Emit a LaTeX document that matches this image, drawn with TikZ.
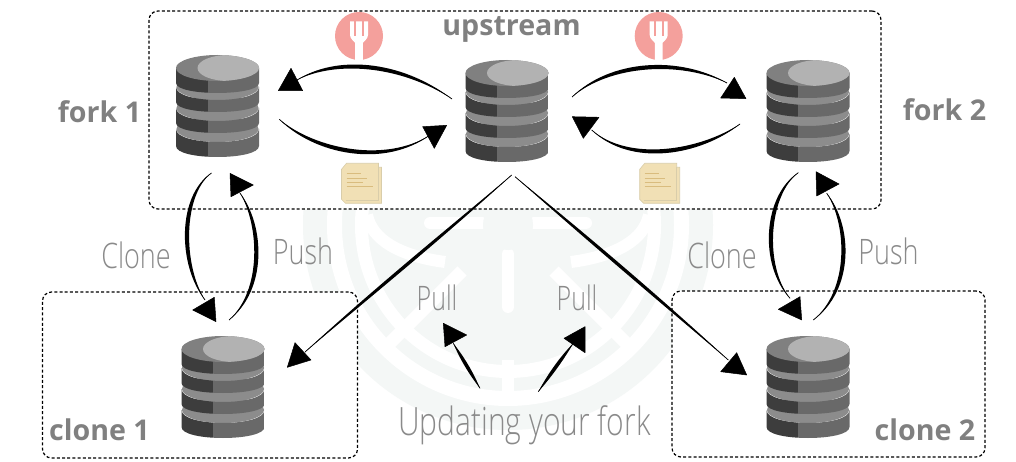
\documentclass[tikz,border=0pt]{standalone}
\usepackage{fontspec}
\setmainfont{Open Sans}
\newfontfamily\labfont{Open Sans}
\newfontfamily\handfont{Open Sans Light}
\usetikzlibrary{calc}
\definecolor{wm}{HTML}{F4F7F6}
\definecolor{labgray}{HTML}{808080}
\definecolor{handgray}{HTML}{8A8A8A}
\definecolor{forkred}{HTML}{F4A09C}
\definecolor{notepaper}{HTML}{F1E0B5}
\definecolor{noteedge}{HTML}{D9CDAA}
\definecolor{noteline}{HTML}{D9BC7E}
\tikzset{
  groupbox/.style={draw=black,fill=white,line width=1.2pt,dash pattern=on 3pt off 2.2pt,rounded corners=9pt,inner sep=0pt},
  dbnode/.style={minimum width=83pt,minimum height=102pt,inner sep=0pt},
  iconnode/.style={minimum width=10pt,minimum height=10pt,inner sep=0pt},
  biglabel/.style={text=labgray,font=\labfont\bfseries\fontsize{28.6}{32}\selectfont,inner sep=0pt},
  handlabel/.style={text=handgray,font=\handfont\fontsize{27}{30}\selectfont,inner sep=0pt,yscale=1.3,transform shape},
  handwide/.style={text=handgray,font=\handfont\fontsize{30}{32}\selectfont,inner sep=0pt,yscale=1.3,transform shape},
  handsmall/.style={text=handgray,font=\handfont\fontsize{25}{30}\selectfont,inner sep=0pt,yscale=1.35,transform shape},
  sketchline/.style={draw=black,line width=0.7pt},
  sketchbody/.style={fill=black},
  sketchhead/.style={fill=black,draw=black,line width=0.5pt,line join=round},
}
% one disc of the database stack: top y, side height at the rim, depth of the lower curve
\newcommand{\dbdisc}[3]{%
  \fill[black!45!white] (0,#1) ellipse[x radius=41pt,y radius=13pt];
  \begin{scope}
    \clip (-41.5,#1) -- (-41.5,#1+#2) .. controls (-41.5,#1+#2+#3*1.333) and (41.5,#1+#2+#3*1.333) .. (41.5,#1+#2) -- (41.5,#1)
      .. controls (41.5,#1+17.3) and (-41.5,#1+17.3) .. (-41.5,#1) -- cycle;
    \fill[black!76!white] (-42,#1-2) rectangle (-10,#1+#2+#3+2);
    \fill[black!59!white] (-10,#1-2) rectangle (42,#1+#2+#3+2);
  \end{scope}
}
\tikzset{
  db/.pic={
    \dbdisc{22}{17}{11}
    \dbdisc{1}{15}{10}
    \dbdisc{-20}{15}{10}
    \begin{scope}
      \clip (-41.5,-39) -- (-41.5,-24) .. controls (-41.5,-10.7) and (41.5,-10.7) .. (41.5,-24) -- (41.5,-39) -- cycle;
      \fill[black!76!white] (-42,-40) rectangle (-10,-8);
      \fill[black!59!white] (-10,-40) rectangle (42,-8);
    \end{scope}
    \fill[black!50!white] (0,-39) ellipse[x radius=41.5pt,y radius=13pt];
    \begin{scope}
      \clip (0,-39) ellipse[x radius=41.5pt,y radius=13pt];
      \fill[black!30!white] (11,-39) ellipse[x radius=31pt,y radius=13pt];
    \end{scope}
  },
  forkicon/.pic={
    \fill[forkred] (0,0) circle[radius=24pt];
    \fill[white] (-9,-14.5) -- (-9,-1) .. controls (-9,3) and (-4.5,5.5) .. (-3.8,7) -- (-3.8,24) -- (3.8,24) -- (3.8,7) .. controls (4.5,5.5) and (9,3) .. (9,-1) -- (9,-14.5) -- cycle;
    \fill[forkred] (-5,-14.5) rectangle (-2.8,0);
    \fill[forkred] (2.8,-14.5) rectangle (5,0);
  },
  noteicon/.pic={
    \filldraw[fill=notepaper,draw=noteedge,line width=0.6pt] (-15,-20) -- (17,-20) -- (17,-16) -- (20,-16) -- (20,20) -- (-16,20) -- (-20,16) -- (-20,-14) -- cycle;
    \draw[noteedge,line width=0.5pt] (-16,17) -- (17,17) -- (17,-16);
    \draw[noteline,line width=1.4pt] (-15,-9.5) -- (-1,-9.5) (-15,-5) -- (5.5,-5) (-15,-1) -- (1.5,-1) (-15,3.3) -- (11.5,3.3);
  },
}
% node, offset, control 1, control 2, node, offset, half width, head path
\newcommand{\skarrow}[8]{%
  \path ([shift={(#2)}]#1.center) coordinate (sa) ([shift={(#6)}]#5.center) coordinate (sb);
  \draw[sketchline] ([shift={(#2)}]#1.center) .. controls (#3) and (#4) .. ([shift={(#6)}]#5.center);
  \fill[sketchbody] (sa) .. controls ($(#3)!#7pt!90:(#4)$) and ($(#4)!#7pt!-90:(#3)$) .. (sb)
     .. controls ($(#4)!#7pt!90:(#3)$) and ($(#3)!#7pt!-90:(#4)$) .. (sa) -- cycle;
  \filldraw[sketchhead] #8 -- cycle;
}
\begin{document}
\begin{tikzpicture}[x=1pt,y=-1pt]
\useasboundingbox (0,0) rectangle (1016,462);
\fill[white] (0,0) rectangle (1016,462);
% watermark
\fill[wm] (508,225) circle[radius=205pt];
\draw[white,line width=15pt] (508,225) circle[radius=173.5pt];
\draw[white,line width=13pt] (508,225) circle[radius=146.5pt];
\draw[white,line width=13pt] (508,225) ++(-46,46) -- ++(-74,74);
\draw[white,line width=13pt] (508,225) ++(46,46) -- ++(74,74);
\draw[white,line width=12pt,line cap=round] (508,254) -- (508,307);
\draw[white,line width=12pt] (508,360) -- (508,395);
\draw[white,line width=12pt,line cap=round] (430,223) -- (482,223) (534,223) -- (586,223);
\draw[white,line width=12pt] (367,215) .. controls (372,240) and (400,256) .. (445,262);
\draw[white,line width=12pt] (649,215) .. controls (644,240) and (616,256) .. (571,262);
\fill[wm] (508,225) circle[radius=25pt];
% group boxes
\node[groupbox,minimum width=732pt,minimum height=198pt] (upbox) at (515,110) {};
\node[groupbox,minimum width=315pt,minimum height=166pt] (clboxa) at (200,375) {};
\node[groupbox,minimum width=313pt,minimum height=166pt] (clboxb) at (828.5,374) {};
% databases
\node[dbnode] (forka) at (217.5,107) {};
\node[dbnode] (up) at (507,112) {};
\node[dbnode] (forkb) at (808,112) {};
\node[dbnode] (clonea) at (223,388) {};
\node[dbnode] (cloneb) at (808,388) {};
\pic at (forka.center) {db};
\pic at (up.center) {db};
\pic at (forkb.center) {db};
\pic at (clonea.center) {db};
\pic at (cloneb.center) {db};
% icons
\node[iconnode] (fkicona) at (359,36) {};
\node[iconnode] (fkiconb) at (658.7,36) {};
\node[iconnode] (nticona) at (361.5,183.3) {};
\node[iconnode] (nticonb) at (659.7,183.3) {};
\pic at (fkicona.center) {forkicon};
\pic at (fkiconb.center) {forkicon};
\pic at (nticona.center) {noteicon};
\pic at (nticonb.center) {noteicon};
% labels
\node[biglabel] (lbup) at (511.5,29) {upstream};
\node[biglabel] (lbfa) at (99.5,112) {fork 1};
\node[biglabel] (lbfb) at (944.5,110) {fork 2};
\node[biglabel] (lbca) at (99.5,430) {clone 1};
\node[biglabel] (lbcb) at (925,430) {clone 2};
\node[handlabel] (hca) at (136,255) {Clone};
\node[handlabel] (hpa) at (303,251) {Push};
\node[handlabel] (hcb) at (722,255) {Clone};
\node[handlabel] (hpb) at (888.5,251) {Push};
\node[handsmall] (hpla) at (437,298) {Pull};
\node[handsmall] (hplb) at (577,298) {Pull};
\node[handwide] (upd) at (524.5,425) {Updating your fork};
% connectors
\skarrow{up}{-55,-13}{400,62}{335,58}{forka}{79.5,-27}{2.8}{(291,68.3) -- (278.3,90.7) -- (302.7,90.7)}
\skarrow{forka}{61.8,12.3}{315,152}{385,166}{up}{-77,23}{2.8}{(422.7,126.7) -- (446.7,125.3) -- (434.3,148.3)}
\skarrow{up}{65,-15}{610,62}{680,58}{forkb}{-81,-29}{2.8}{(734.3,77.3) -- (720.7,98) -- (746,98.7)}
\skarrow{forkb}{-68,12}{700,153}{630,165}{up}{84.7,18}{2.8}{(572.3,116.7) -- (599,117.3) -- (583.3,138.3)}
\skarrow{forka}{-6,66}{180,195}{180,265}{clonea}{-18,-88}{2.8}{(192.7,310) -- (214.3,297.3) -- (216,321.7)}
\skarrow{clonea}{6,-68}{265,290}{262,225}{forka}{22.5,86}{2.8}{(230,173.3) -- (253.3,185) -- (231,196.7)}
\skarrow{forkb}{-9.7,60.7}{766,195}{761,265}{cloneb}{-18,-89.7}{2.8}{(778.3,309.3) -- (800,296.7) -- (801.7,320)}
\skarrow{cloneb}{5.3,-68}{852,290}{850,225}{forkb}{18.7,81.3}{2.8}{(816,171.7) -- (839,184) -- (816.7,196)}
\skarrow{up}{4.7,63}{442,236}{373,292}{clonea}{82,-36}{2.2}{(295,342.7) -- (287.3,367.3) -- (311,360)}
\skarrow{up}{8,64.7}{585,236}{658,298}{cloneb}{-79.7,-28}{2.2}{(736.7,352.7) -- (720.7,371.7) -- (746.7,375)}
\skarrow{upd}{-44.5,-36.7}{471,373}{462,358}{hpla}{16.3,45.3}{2.4}{(443.3,323.3) -- (466.7,335) -- (445,346.7)}
\skarrow{upd}{13.8,-33.3}{550,375}{562,358}{hplb}{-3.7,45.3}{2.4}{(585,326.7) -- (564,338.3) -- (585,352.7)}
\end{tikzpicture}
\end{document}
